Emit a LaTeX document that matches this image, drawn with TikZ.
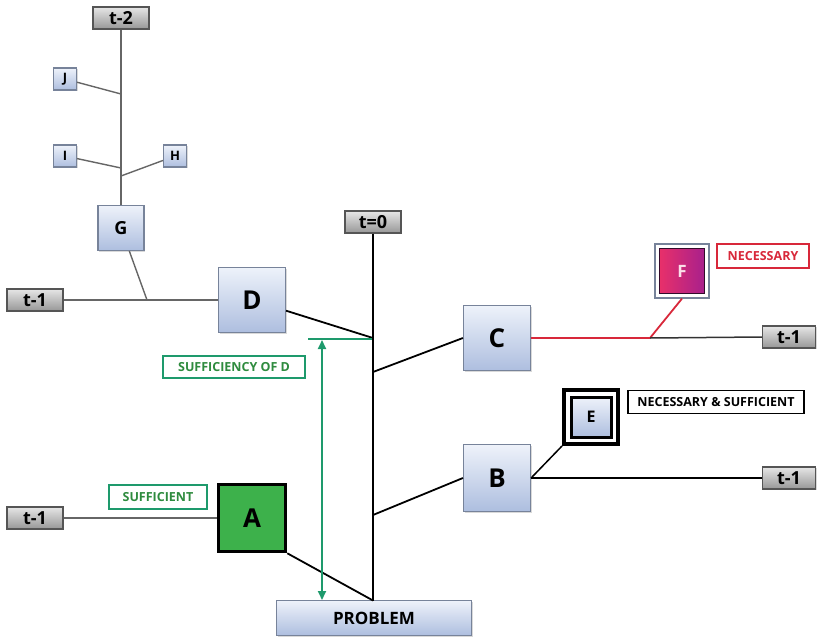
\documentclass[tikz,border=0pt]{standalone}
\usepackage{fontspec}
\setmainfont{Open Sans}
\usetikzlibrary{calc,arrows.meta,shadows}
\definecolor{boxtop}{HTML}{EEF2FA}
\definecolor{boxbot}{HTML}{ADBEDF}
\definecolor{boxline}{HTML}{77839A}
\definecolor{ttop}{HTML}{E6E6E6}
\definecolor{tbot}{HTML}{979797}
\definecolor{tline}{HTML}{555555}
\definecolor{grn}{HTML}{1E9A6C}
\definecolor{grntxt}{HTML}{2E8B3E}
\definecolor{afill}{HTML}{3DB14B}
\definecolor{necred}{HTML}{D8283A}
\definecolor{fA}{HTML}{E8306A}
\definecolor{fB}{HTML}{A8208C}
\definecolor{treeg}{HTML}{666666}
\tikzset{
  bluebox/.style={draw=boxline, line width=1.2pt, top color=boxtop, bottom color=boxbot,
    inner sep=0pt, font=\bfseries, drop shadow={opacity=0.3,shadow xshift=1.2pt,shadow yshift=-1.2pt}},
  tbox/.style={draw=tline, line width=1.2pt, top color=ttop, bottom color=tbot,
    inner sep=0pt, minimum width=56pt, minimum height=22pt, font=\bfseries\fontsize{18}{18}\selectfont,
    drop shadow={opacity=0.3,shadow xshift=1.2pt,shadow yshift=-1.2pt}},
  lab/.style={draw, line width=1.3pt, fill=white, inner sep=0pt, font=\bfseries\fontsize{12.5}{13}\selectfont},
  conn/.style={line width=1.8pt, black},
  tree/.style={line width=1.4pt, treeg},
  small/.style={bluebox, minimum width=23pt, minimum height=22pt, font=\bfseries\fontsize{13}{13}\selectfont},
  big/.style={bluebox, minimum width=67pt, minimum height=65pt, font=\bfseries\fontsize{26}{26}\selectfont},
}
\begin{document}
\begin{tikzpicture}[x=1pt,y=-1pt]
\useasboundingbox (0,0) rectangle (818,639);
% tree nodes
\node[tbox] (t2) at (121,18) {t-2};
\node[small] (J) at (65,79) {J};
\node[small] (I) at (65,156) {I};
\node[small] (H) at (175,156) {H};
\node[bluebox, minimum width=46pt, minimum height=45pt, font=\bfseries\fontsize{18}{18}\selectfont] (G) at (121,228) {G};
\node[tbox] (tD) at (35,300) {t-1};
\node[big] (D) at (252,300) {D};
\node[tbox] (t0) at (373,222) {t=0};
\node[big] (C) at (497,338) {C};
\node[tbox, minimum width=53pt] (tC) at (789,337) {t-1};
\node[draw=boxline, line width=1.2pt, fill=white, minimum size=54pt, inner sep=0pt,
  drop shadow={opacity=0.3,shadow xshift=1.2pt,shadow yshift=-1.2pt}] (Fo) at (682,271) {};
\node[draw=black!70!fB, line width=1pt, left color=fA, right color=fB, minimum size=45pt, inner sep=0pt,
  text=white!85!fA, font=\bfseries\fontsize{17}{17}\selectfont] (F) at (682,271) {F};
\node[lab, draw=necred, text=necred, minimum width=92pt, minimum height=24pt] (nec) at (763,256) {NECESSARY};
\node[draw=black, line width=4pt, fill=white, minimum size=54pt, inner sep=0pt] (E) at (591,417) {};
\node[draw=black, line width=3pt, top color=boxtop, bottom color=boxbot, minimum size=40pt, inner sep=0pt,
  font=\bfseries\fontsize{16}{16}\selectfont] (Ei) at (591,417) {E};
\node[lab, draw=black, text=black, line width=1.1pt, minimum width=176pt, minimum height=23pt] (ns) at (716,402) {NECESSARY \& SUFFICIENT};
\node[big, minimum height=67pt] (B) at (497,478) {B};
\node[tbox, minimum width=53pt] (tB) at (789,478) {t-1};
\node[draw=black, line width=3.5pt, fill=afill, minimum size=67pt, inner sep=0pt,
  font=\bfseries\fontsize{26}{26}\selectfont] (A) at (252,518) {A};
\node[tbox] (tA) at (35,518) {t-1};
\node[lab, draw=grn, text=grntxt, minimum width=98pt, minimum height=24pt] (suf) at (158,497) {SUFFICIENT};
\node[lab, draw=grn, text=grntxt, minimum width=142pt, minimum height=22pt] (sufD) at (234,367) {SUFFICIENCY OF D};
\node[bluebox, minimum width=195pt, minimum height=35pt, font=\bfseries\fontsize{17}{17}\selectfont] (P) at (374,618) {PROBLEM};
% junction coordinates
\coordinate (jJ) at (121,94);
\coordinate (jI) at (121,168);
\coordinate (jH) at (121,176);
\coordinate (jG) at (147,300);
\coordinate (jD) at (373,338);
\coordinate (jC) at (373,372);
\coordinate (jB) at (373,515);
\coordinate (jP) at (373,600.5);
\coordinate (jF) at (650,338);
\coordinate (gL) at (308,339);
\coordinate (gR) at (372,339);
\coordinate (gT) at (322,340);
\coordinate (gB) at (322,600);
% tree connectors
\draw[tree] (t2.south) -- (G.north);
\draw[tree] (J) -- (jJ);
\draw[tree] (I) -- (jI);
\draw[tree] (H) -- (jH);
\draw[tree] (G) -- (jG);
\draw[tree] (tD.east) -- (D.west);
\draw[tree] (tA.east) -- (A.west);
% main connectors
\draw[conn, line width=2.2pt] (t0.south) -- (jP);
\draw[conn] (D) -- (jD);
\draw[conn] (jC) -- (C.west);
\draw[conn] (jB) -- (B.west);
\draw[conn] (A.south east) -- (jP);
\draw[conn, necred] (C.east) -- (jF);
\draw[conn, necred] (jF) -- (Fo.south);
\draw[conn, line width=1.5pt, black!80] (jF) -- (tC.west);
\draw[conn, line width=1.5pt] (B.east) -- (tB.west);
\draw[conn, line width=1.5pt] (B.east) -- (E.south west);
% green sufficiency marker
\draw[grn, line width=1.6pt] (gL) -- (gR);
\draw[grn, line width=1.8pt, {Triangle[length=9pt,width=8pt]}-{Triangle[length=9pt,width=8pt]}] (gT) -- (gB);
\end{tikzpicture}
\end{document}
